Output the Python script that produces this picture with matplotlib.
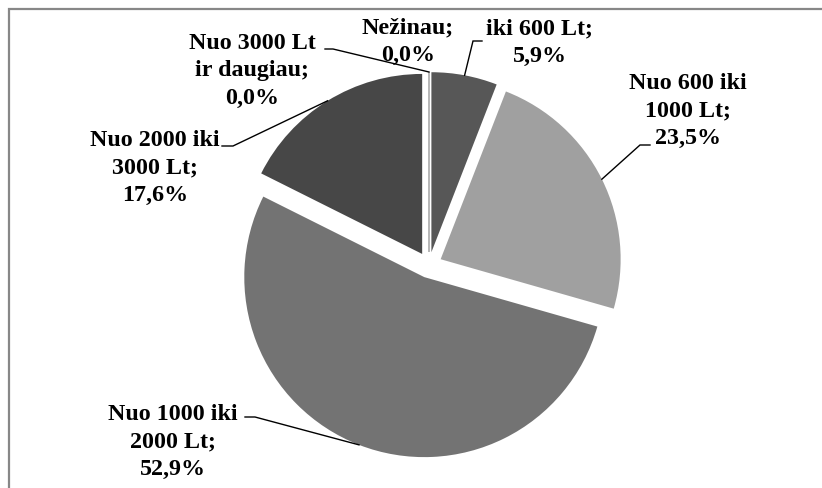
import numpy as np
import matplotlib
matplotlib.use('Agg')
import matplotlib.pyplot as plt

# Pie data (clockwise from the top).
labels = ['Nežinau;\n0,0%', 'iki 600 Lt;\n5,9%', 'Nuo 600 iki\n1000 Lt;\n23,5%',
          'Nuo 1000 iki\n2000 Lt;\n52,9%', 'Nuo 2000 iki\n3000 Lt;\n17,6%',
          'Nuo 3000 Lt\nir daugiau;\n0,0%']
shares = [0.0, 5.9, 23.5, 52.9, 17.6, 0.0]
colors = ['#9a9a9a', '#575757', '#a0a0a0', '#737373', '#474747', '#3c3c3c']

W, H = 822, 489
fig = plt.figure(figsize=(W / 100, H / 100), dpi=100)
ax = fig.add_axes([0, 0, 1, 1])

R = 180
# explode is in data units (pixels here)
wedges, _ = ax.pie(shares, colors=colors, startangle=90, counterclock=False,
                   center=(429, H - 266), radius=R, explode=[13] * len(shares),
                   wedgeprops=dict(linewidth=0), frame=True)
ax.set_xlim(0, W)
ax.set_ylim(0, H)
ax.axis('off')

# zero slices show up as a thin grey line
for w, s in zip(wedges, shares):
    if s == 0:
        w.set_edgecolor('#a8a8a8')
        w.set_linewidth(0.8)

# label centre, text-side end of leader, knee of leader (pixels from top-left)
label_pos = [(408, 42), (540, 43), (688, 111), (173, 442), (155, 168), (252, 71)]
leaders = [None, ((482, 42), (473, 42)), ((650, 146), (640, 146)),
           ((245, 418), (255, 418)), ((222, 147), (233, 147)),
           ((325, 50), (333, 50))]

for w, lab, (tx, ty), ld in zip(wedges, labels, label_pos, leaders):
    ax.text(tx, H - ty, lab, ha='center', va='center', multialignment='center',
            family='Liberation Serif', fontweight='bold', fontsize=17.3,
            linespacing=1.4, zorder=3)
    if ld is None:
        continue
    th = np.radians((w.theta1 + w.theta2) / 2)
    cx, cy = w.center
    px, py = cx + w.r * np.cos(th), cy + w.r * np.sin(th)
    (x0, y0), (x1, y1) = ld
    ax.plot([x0, x1, px], [H - y0, H - y1, py], color='black', lw=1.0,
            solid_joinstyle='miter', zorder=4)

# chart border (only top and left visible in the crop)
ax.plot([9, 9, W], [0, H - 10, H - 10], color='#878787', lw=1.6, zorder=5,
        solid_joinstyle='miter')

fig.savefig('out.png', dpi=100)
